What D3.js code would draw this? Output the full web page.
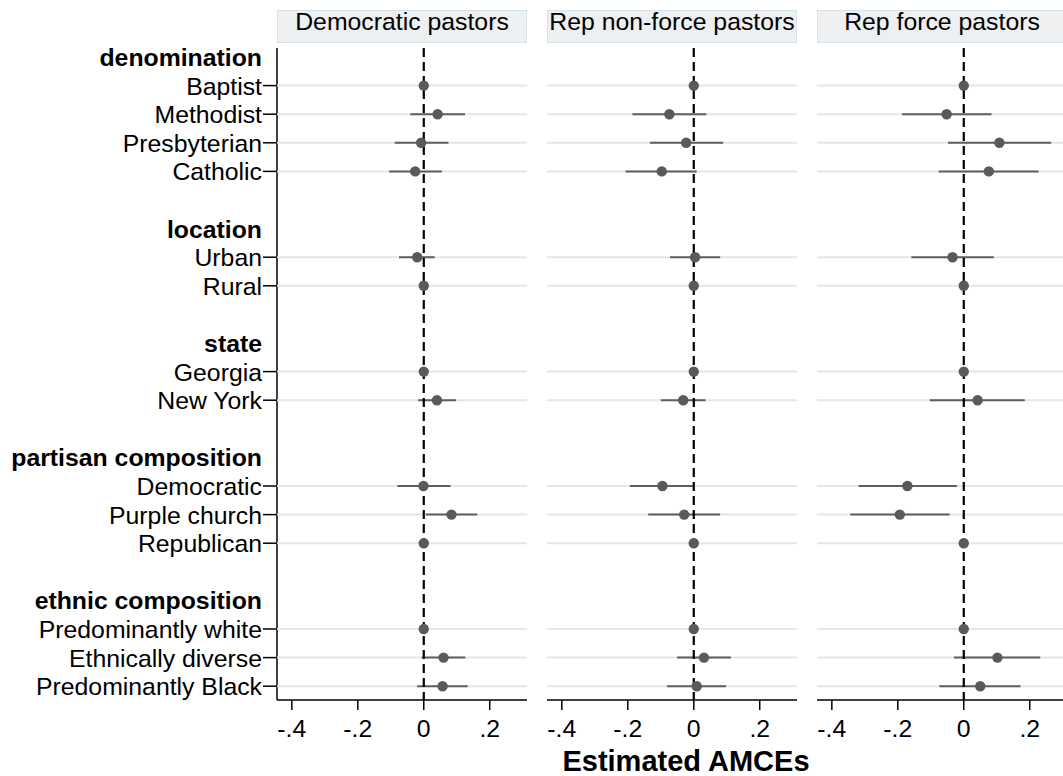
<!DOCTYPE html>
<html>
<head>
<meta charset="utf-8">
<script src="https://cdn.jsdelivr.net/npm/d3@7"></script>
<style>
  body { margin: 0; background: #fff; }
  svg { display: block; font-family: "Liberation Sans", Arial, sans-serif; }
</style>
</head>
<body>
<svg id="chart" width="1063" height="776"></svg>
<script>
const width = 1063;
const height = 776;

// panels
const panels = ["Democratic pastors", "Rep non-force pastors", "Rep force pastors"];

// y-axis rows (headers, levels, blank spacers)
const rowLabels = ["denomination", "Baptist", "Methodist", "Presbyterian", "Catholic", "",
  "location", "Urban", "Rural", "",
  "state", "Georgia", "New York", "",
  "partisan composition", "Democratic", "Purple church", "Republican", "",
  "ethnic composition", "Predominantly white", "Ethnically diverse", "Predominantly Black"];
const groupHeaders = ["denomination", "location", "state", "partisan composition", "ethnic composition"];

// attribute levels (in order), reference levels have no CI
const levels = ["Baptist", "Methodist", "Presbyterian", "Catholic", "Urban", "Rural",
  "Georgia", "New York", "Democratic", "Purple church", "Republican",
  "Predominantly white", "Ethnically diverse", "Predominantly Black"];

const demEst  = [0, 0.042, -0.008, -0.026, -0.020, 0, 0, 0.040, -0.001, 0.084, 0, 0, 0.060, 0.057];
const demLo   = [null, -0.041, -0.088, -0.105, -0.075, null, null, -0.017, -0.080, 0.006, null, null, -0.006, -0.020];
const demHi   = [null, 0.125, 0.075, 0.055, 0.033, null, null, 0.098, 0.081, 0.162, null, null, 0.126, 0.133];

const nonEst  = [0, -0.074, -0.023, -0.097, 0.004, 0, 0, -0.032, -0.095, -0.029, 0, 0, 0.031, 0.009];
const nonLo   = [null, -0.186, -0.133, -0.207, -0.072, null, null, -0.100, -0.194, -0.138, null, null, -0.051, -0.081];
const nonHi   = [null, 0.038, 0.089, 0.009, 0.080, null, null, 0.036, 0.001, 0.080, null, null, 0.113, 0.098];

const forceEst = [0, -0.052, 0.108, 0.076, -0.034, 0, 0, 0.042, -0.171, -0.194, 0, 0, 0.102, 0.050];
const forceLo  = [null, -0.187, -0.048, -0.076, -0.159, null, null, -0.103, -0.319, -0.344, null, null, -0.030, -0.074];
const forceHi  = [null, 0.084, 0.265, 0.227, 0.091, null, null, 0.185, -0.021, -0.043, null, null, 0.232, 0.172];

const xTicks = [-0.4, -0.2, 0, 0.2];
const xTickLabels = ["-.4", "-.2", "0", ".2"];
const xTitle = "Estimated AMCEs";

const series = [
  { est: demEst, lo: demLo, hi: demHi },
  { est: nonEst, lo: nonLo, hi: nonHi },
  { est: forceEst, lo: forceLo, hi: forceHi }
];

const panelW = 250, panelGap = 20;
const plotLeft = 277, plotTop = 48, plotBottom = 700;
const fontSize = 24.8;

const svg = d3.select("#chart");

const x = d3.scaleLinear().domain([-0.445, 0.313]).range([0, panelW]);
const y = d3.scalePoint().domain(d3.range(rowLabels.length)).range([57, 686.2]);

const levelRow = levels.map(l => rowLabels.indexOf(l));

// y axis labels (first panel only)
const yAxis = svg.append("g");
yAxis.append("line")
  .attr("x1", plotLeft).attr("x2", plotLeft)
  .attr("y1", plotTop).attr("y2", plotBottom)
  .attr("stroke", "#000").attr("stroke-width", 1.5);

rowLabels.forEach((lab, i) => {
  if (!lab) return;
  const isHead = groupHeaders.includes(lab);
  yAxis.append("text")
    .attr("x", 262)
    .attr("y", y(i))
    .attr("dy", "0.36em")
    .attr("text-anchor", "end")
    .attr("font-size", fontSize)
    .attr("font-weight", isHead ? "bold" : "normal")
    .attr("fill", "#000")
    .text(lab);
  if (!isHead) {
    yAxis.append("line")
      .attr("x1", 263).attr("x2", plotLeft)
      .attr("y1", y(i)).attr("y2", y(i))
      .attr("stroke", "#000").attr("stroke-width", 1.5);
  }
});

panels.forEach((name, p) => {
  const ox = plotLeft + p * (panelW + panelGap);
  const g = svg.append("g").attr("transform", `translate(${ox},0)`);
  const s = series[p];

  // header strip
  g.append("rect")
    .attr("x", 0.5).attr("y", 10.5)
    .attr("width", panelW - 1).attr("height", 32)
    .attr("fill", "#eeeff1").attr("stroke", "#d5e2ea");
  g.append("text")
    .attr("x", panelW / 2).attr("y", 30)
    .attr("text-anchor", "middle")
    .attr("font-size", fontSize)
    .text(name);

  // gridlines
  g.selectAll(".grid")
    .data(levelRow)
    .enter().append("line")
      .attr("x1", 0).attr("x2", panelW)
      .attr("y1", d => y(d)).attr("y2", d => y(d))
      .attr("stroke", "#e6e6e6").attr("stroke-width", 2);

  // confidence intervals
  const ci = levels.map((l, i) => ({ row: levelRow[i], lo: s.lo[i], hi: s.hi[i] }))
    .filter(d => d.lo !== null);
  g.selectAll(".ci")
    .data(ci)
    .enter().append("line")
      .attr("x1", d => x(d.lo)).attr("x2", d => x(d.hi))
      .attr("y1", d => y(d.row)).attr("y2", d => y(d.row))
      .attr("stroke", "#5e5e5e").attr("stroke-width", 2);

  // zero line
  g.append("line")
    .attr("x1", x(0)).attr("x2", x(0))
    .attr("y1", plotTop).attr("y2", plotBottom)
    .attr("stroke", "#000").attr("stroke-width", 2.2)
    .attr("stroke-dasharray", "9,5");

  // points
  g.selectAll(".pt")
    .data(levels.map((l, i) => ({ row: levelRow[i], est: s.est[i] })))
    .enter().append("circle")
      .attr("cx", d => x(d.est))
      .attr("cy", d => y(d.row))
      .attr("r", 5.2)
      .attr("fill", "#5a5a5a");

  // x axis
  const ax = g.append("g").attr("transform", `translate(0,${plotBottom})`);
  ax.append("line")
    .attr("x1", 0).attr("x2", panelW)
    .attr("stroke", "#000").attr("stroke-width", 1.5);
  ax.selectAll(".tk")
    .data(xTicks)
    .enter().append("line")
      .attr("x1", d => x(d)).attr("x2", d => x(d))
      .attr("y1", 0).attr("y2", 10)
      .attr("stroke", "#000").attr("stroke-width", 1.5);
  ax.selectAll(".tl")
    .data(xTicks)
    .enter().append("text")
      .attr("x", d => x(d))
      .attr("y", 37)
      .attr("text-anchor", "middle")
      .attr("font-size", fontSize)
      .text((d, i) => xTickLabels[i]);
});

svg.append("text")
  .attr("x", 686).attr("y", 771)
  .attr("text-anchor", "middle")
  .attr("font-size", 29)
  .attr("font-weight", "bold")
  .text(xTitle);
</script>
</body>
</html>
